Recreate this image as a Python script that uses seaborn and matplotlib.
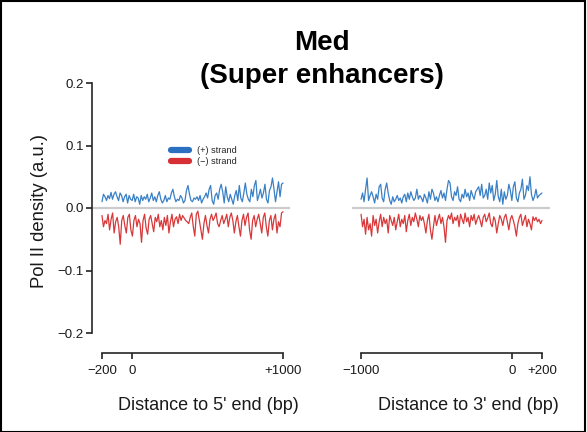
import numpy as np
import pandas as pd
import matplotlib
matplotlib.use("Agg")
import matplotlib.pyplot as plt
import seaborn as sns
from matplotlib.lines import Line2D
from matplotlib.patches import Rectangle

sns.set_style("ticks")
plt.rcParams['font.family'] = ['Liberation Sans', 'DejaVu Sans']

# ---- data (values x 0.001) ----
plus_5 = [10,22,18,12,20,15,25,14,22,26,18,12,24,20,10,18,22,8,20,14,12,22,10,18,16,6,20,12,18,14,22,10,16,24,12,18,10,20,26,
          14,8,12,20,10,16,14,24,30,18,10,14,12,20,16,8,12,28,36,22,12,10,16,14,18,12,20,8,14,18,24,16,30,36,12,6,20,24,14,30,38,
          26,8,34,18,10,22,14,6,20,28,12,36,16,10,24,40,22,14,10,30,18,36,44,12,20,30,16,24,38,14,8,28,34,48,30,10,26,42,18,38,40]
minus_5 = [-12,-30,-20,-25,-10,-35,-18,-8,-40,-22,-15,-30,-58,-20,-12,-28,-40,-15,-10,-35,-45,-20,-12,-30,-18,-25,-55,-20,-10,-32,-42,-18,-12,-25,-38,-15,-22,-10,-30,
           -20,-35,-15,-28,-12,-40,-22,-10,-30,-18,-14,-25,-10,-20,-12,-16,-20,-22,-25,-15,-8,-30,-45,-10,-5,-20,-35,-50,-25,-12,-28,-40,-18,-10,-20,-15,-8,-25,-30,-20,
           -12,-25,-18,-10,-30,-15,-8,-20,-40,-22,-12,-30,-45,-20,-10,-28,-15,-8,-35,-50,-20,-12,-30,-18,-10,-25,-40,-15,-8,-30,-45,-20,-12,-35,-18,-10,-40,-22,-30,-8,-6]
plus_3 = [14,24,10,30,48,12,20,26,18,8,22,14,34,38,16,10,30,40,24,12,6,18,10,14,20,12,16,8,18,22,10,24,14,26,18,12,16,30,14,20,16,
          10,22,16,8,26,14,30,24,12,18,10,20,28,16,24,12,30,44,40,18,12,26,20,34,14,10,22,16,30,18,24,12,28,20,14,26,30,34,20,38,16,
          20,30,14,40,24,36,12,22,44,18,10,30,6,26,14,20,38,28,12,34,42,16,10,24,30,46,14,20,36,28,50,22,12,18,30,16,20,22,24]
minus_3 = [-10,-30,-18,-42,-15,-35,-25,-45,-12,-28,-18,-40,-22,-10,-30,-15,-25,-18,-40,-12,-20,-28,-15,-35,-22,-10,-30,-18,-25,-12,-38,-20,-10,-28,-15,-22,-8,-18,-30,-12,-20,
           -14,-25,-40,-20,-10,-35,-50,-30,-12,-28,-18,-10,-25,-15,-30,-55,-20,-12,-18,-8,-25,-15,-20,-12,-30,-10,-18,-25,-8,-22,-15,-30,-12,-20,-10,-26,-18,-12,-20,-30,-15,
           -10,-22,-16,-8,-25,-30,-14,-20,-40,-25,-12,-18,-28,-15,-10,-22,-35,-18,-12,-20,-30,-45,-25,-15,-10,-28,-20,-12,-30,-18,-25,-35,-14,-20,-15,-22,-18,-25,-20]

left_range = (-200, 1000)
right_range = (-1000, 200)
left_ticks = [-200, 0, 1000]
left_ticklabels = ["\u2212200", "0", "+1000"]
right_ticks = [-1000, 0, 200]
right_ticklabels = ["\u22121000", "0", "+200"]
y_ticks = [-0.2, -0.1, 0.0, 0.1, 0.2]
y_ticklabels = ["\u22120.2", "\u22120.1", "0.0", "0.1", "0.2"]

BLUE = "#3a80c6"
RED = "#d9383a"
TXT = "#1a1a1a"
W, H = 587, 432

def frame(vals, rng, strand):
    x = np.linspace(rng[0], rng[1], len(vals))
    return pd.DataFrame({"pos": x, "val": np.array(vals) / 1000.0, "strand": strand})

fig = plt.figure(figsize=(W / 100, H / 100), dpi=100)
axL = fig.add_axes([92 / W, (H - 333) / H, 198 / W, 250 / H])
axR = fig.add_axes([352 / W, (H - 333) / H, 198 / W, 250 / H])

for ax, (p, m), rng, xl, ticks, labels in [
        (axL, (plus_5, minus_5), left_range, (-266, 1046), left_ticks, left_ticklabels),
        (axR, (plus_3, minus_3), right_range, (-1060, 253), right_ticks, right_ticklabels)]:
    ax.axhline(0, color="#cccccc", lw=1.6, zorder=1)
    df = pd.concat([frame(p, rng, "+"), frame(m, rng, "-")])
    sns.lineplot(data=df, x="pos", y="val", hue="strand",
                 palette={"+": BLUE, "-": RED}, lw=0.9, ax=ax, legend=False, zorder=2)
    ax.set_xlim(*xl)
    ax.set_ylim(-0.2, 0.2)
    ax.set_xlabel("")
    ax.set_ylabel("")
    ax.spines["top"].set_visible(False)
    ax.spines["right"].set_visible(False)
    ax.spines["bottom"].set_position(("outward", 14.4))
    ax.spines["bottom"].set_bounds(rng[0], rng[1])
    ax.set_xticks(ticks)
    ax.set_xticklabels(labels)
    ax.tick_params(axis="x", length=4, width=1.2, labelsize=9.5, pad=5, colors="#222222",
                   labelcolor=TXT)
    ax.spines["bottom"].set_linewidth(1.2)
    ax.set_facecolor("none")

axL.spines["left"].set_linewidth(1.2)
axL.set_yticks(y_ticks)
axL.set_yticklabels(y_ticklabels)
axL.tick_params(axis="y", length=4, width=1.2, labelsize=9.5, pad=2, colors="#222222",
                labelcolor=TXT)
axR.spines["left"].set_visible(False)
axR.set_yticks([])

handles = [Line2D([], [], color="#2a6fc0", lw=4.5, solid_capstyle="round"),
           Line2D([], [], color="#d63036", lw=4.5, solid_capstyle="round")]
fig.legend(handles, ["(+) strand", "(\u2212) strand"], loc="center left",
           bbox_to_anchor=(166 / W, (H - 156) / H), frameon=False, fontsize=6.6,
           handlelength=2.0, handletextpad=0.9, labelspacing=0.25, borderpad=0)

fig.text(208 / W, (H - 406) / H, "Distance to 5' end (bp)", ha="center", va="center",
         fontsize=13, color=TXT)
fig.text(468 / W, (H - 406) / H, "Distance to 3' end (bp)", ha="center", va="center",
         fontsize=13, color=TXT)
fig.text(40 / W, (H - 211) / H, "Pol II density (a.u.)", ha="center", va="center",
         rotation=90, fontsize=13.3, color=TXT)
fig.text(322 / W, (H - 43) / H, "Med", ha="center", va="center", fontsize=20,
         fontweight="bold", color="black")
fig.text(322 / W, (H - 76) / H, "(Super enhancers)", ha="center", va="center", fontsize=20,
         fontweight="bold", color="black")

fig.patches.append(Rectangle((0.001, 0.0), 0.996, 0.997, transform=fig.transFigure,
                             fill=False, edgecolor="black", lw=1.5))

fig.savefig("out.png", dpi=100)
